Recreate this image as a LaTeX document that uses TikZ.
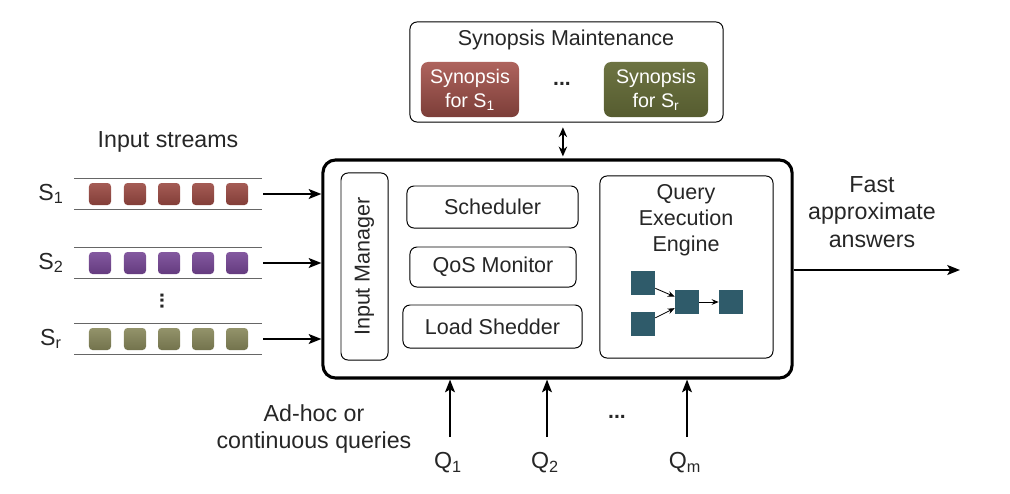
\documentclass[tikz,border=0pt]{standalone}
\usepackage{fontspec}
\setmainfont{Liberation Sans}
\usetikzlibrary{arrows.meta,positioning}

\definecolor{redsyn}{HTML}{A5524B}
\definecolor{greensyn}{HTML}{656C38}
\definecolor{redtok}{HTML}{9A4942}
\definecolor{purpletok}{HTML}{764695}
\definecolor{olivetok}{HTML}{87875A}
\definecolor{opbox}{HTML}{2F5B6A}

\begin{document}
\begin{tikzpicture}[x=0.025cm, y=-0.025cm,
		every node/.style = {font=\fontsize{16.5}{19.5}\selectfont, text=black!85, align=center},
		inner/.style = {font=\fontsize{15.3}{18.5}\selectfont},
		panel/.style = {draw, rounded corners=5pt, line width=0.7pt, inner sep=0pt, inner},
		synbox/.style = {rounded corners=5pt, minimum width=2.45cm, minimum height=1.375cm, text=white, inner sep=0pt, font=\fontsize{14}{17}\selectfont},
		token/.style = {rounded corners=2.5pt, minimum size=0.55cm, inner sep=0pt},
		opnode/.style = {fill=opbox, minimum size=0.6cm, inner sep=0pt},
		flow/.style = {line width=1.4pt, -{Stealth[length=9pt,width=7pt,inset=2pt]}},
		rail/.style = {line width=0.4pt, black!60}]
		
		\useasboundingbox (0,0) rectangle (1010,493);
		
		% synopsis maintenance
		\node[panel, minimum width=7.825cm, minimum height=2.5cm] (syn) at (566.5,72) {};
		\node[inner] (syntitle) at (566,40) {Synopsis Maintenance};
		\node[synbox, top color=redsyn!90!white, bottom color=redsyn!75!black] (synfirst) at (470,89.5) {Synopsis\\for S\textsubscript{1}};
		\node[synbox, minimum width=2.6cm, top color=greensyn!95!white, bottom color=greensyn!85!black] (synlast) at (656,89.5) {Synopsis\\for S\textsubscript{r}};
		\node[font=\bfseries\fontsize{15}{17}\selectfont] (syndots) at (562,84) {...};
		
		% stream processor
		\node[draw, line width=2.2pt, rounded corners=9pt, minimum width=11.725cm, minimum height=5.45cm] (main) at (557.5,269) {};
		\node[panel, rotate=90, minimum width=4.675cm, minimum height=1.175cm] (inman) at (364.5,266.5) {Input Manager};
		\node[panel, minimum width=4.275cm, minimum height=1.05cm] (sched) at (492.5,207) {Scheduler};
		\node[panel, minimum width=4.15cm, minimum height=1.0cm] (qos) at (493,267) {QoS Monitor};
		\node[panel, minimum width=4.475cm, minimum height=1.075cm] (shed) at (492.5,326.5) {Load Shedder};
		\node[panel, minimum width=4.325cm, minimum height=4.55cm] (qee) at (686.5,267) {};
		\node[inner] (qeetitle) at (686,220) {Query\\Execution\\Engine};
		
		% operator graph
		\node[opnode] (op1) at (643,283) {};
		\node[opnode] (op2) at (643,324) {};
		\node[opnode] (op3) at (687,302) {};
		\node[opnode] (op4) at (731,302) {};
		\draw[-{Stealth[length=5pt,width=4pt]}, line width=0.6pt] (op1) -- (op3);
		\draw[-{Stealth[length=5pt,width=4pt]}, line width=0.6pt] (op2) -- (op3);
		\draw[-{Stealth[length=5pt,width=4pt]}, line width=0.6pt] (op3) -- (op4);
		
		\draw[line width=1.4pt, {Stealth[length=7pt,width=6pt]}-{Stealth[length=7pt,width=6pt]}] ([xshift=-0.09cm,yshift=-0.12cm]syn.south) -- ([xshift=-0.09cm,yshift=0.05cm]syn.south |- main.north);
		
		% input streams
		\node (instreams) at (168,142) {Input streams};
		\foreach \name/\lab/\y/\col in {s1/S\textsubscript{1}/194/redtok, s2/S\textsubscript{2}/263/purpletok, sr/S\textsubscript{r}/339/olivetok} {
			\draw[rail] (74,\y-15.5) -- (262,\y-15.5);
			\draw[rail] (74,\y+15.5) -- (262,\y+15.5);
			\foreach \x in {100,135,169,203,237}
				\node[token, top color=\col!90!white, bottom color=\col!85!black] at (\x,\y) {};
			\node (\name lab) at (51,\y) {\lab};
			\coordinate (\name end) at (263,\y);
			\draw[flow] (\name end) -- (\name end -| main.west);
		}
		\node[font=\bfseries\fontsize{15}{17}\selectfont, rotate=90] (streamdots) at (162,301) {...};
		
		% answers
		\node (answers) at (872,212) {Fast\\approximate\\answers};
		\coordinate (out) at (960,270);
		\draw[flow] (main.east |- out) -- (out);
		
		% queries
		\node (querytext) at (314,429) {Ad-hoc or\\continuous queries};
		\foreach \name/\lab/\x in {q1/Q\textsubscript{1}/450, q2/Q\textsubscript{2}/547, qm/Q\textsubscript{m}/687} {
			\coordinate (\name) at (\x,437);
			\draw[flow] (\name) -- (\name |- main.south);
			\node (\name lab) at (\x-2,463) {\lab};
		}
		\node[font=\bfseries\fontsize{15}{17}\selectfont] (qdots) at (617,417) {...};
	\end{tikzpicture}
\end{document}
